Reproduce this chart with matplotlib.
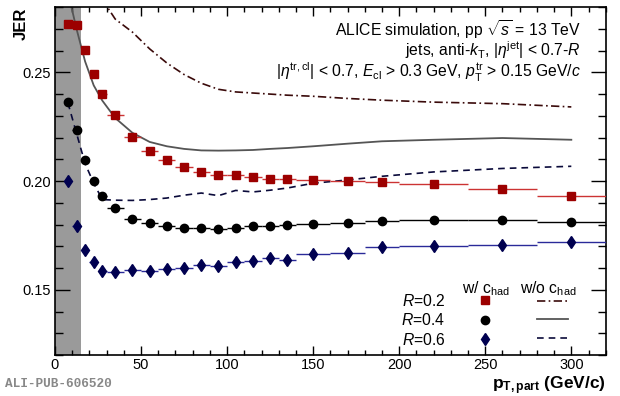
import numpy as np
import matplotlib
matplotlib.use("Agg")
import matplotlib.pyplot as plt
from matplotlib.lines import Line2D
from matplotlib.ticker import MultipleLocator

plt.rcParams["font.family"] = ["Liberation Sans", "DejaVu Sans"]
plt.rcParams["mathtext.fontset"] = "custom"
plt.rcParams["mathtext.rm"] = "Liberation Sans"
plt.rcParams["mathtext.it"] = "Liberation Sans:italic"
plt.rcParams["mathtext.bf"] = "Liberation Sans:bold"

# ---- data ----
pt = [7.5, 12.5, 17.5, 22.5, 27.5, 35, 45, 55, 65, 75, 85, 95, 105, 115, 125, 135,
      150, 170, 190, 220, 260, 300]
pt_halfwidth = [2.5, 2.5, 2.5, 2.5, 2.5, 5, 5, 5, 5, 5, 5, 5, 5, 5, 5, 5,
                10, 10, 10, 20, 20, 20]

jer_r02 = [0.2723, 0.2718, 0.2604, 0.2491, 0.2401, 0.2305, 0.2201, 0.2137, 0.2095,
           0.2065, 0.2042, 0.2029, 0.2029, 0.2020, 0.2011, 0.2011,
           0.2006, 0.2000, 0.1995, 0.1987, 0.1962, 0.1930]
jer_r04 = [0.2365, 0.2235, 0.2097, 0.2002, 0.1933, 0.1874, 0.1827, 0.1806, 0.1792,
           0.1786, 0.1786, 0.1780, 0.1782, 0.1792, 0.1793, 0.1798,
           0.1803, 0.1807, 0.1816, 0.1822, 0.1822, 0.1813]
jer_r06 = [0.1999, 0.1795, 0.1684, 0.1626, 0.1588, 0.1582, 0.1589, 0.1588, 0.1596,
           0.1602, 0.1612, 0.1608, 0.1626, 0.1634, 0.1645, 0.1638,
           0.1663, 0.1669, 0.1695, 0.1701, 0.1707, 0.1718]

# without hadronisation correction (curves)
nohad_r02 = [0.300, 0.296, 0.292, 0.288, 0.2835, 0.2745, 0.2685, 0.2608, 0.2543,
             0.2490, 0.2450, 0.2422, 0.2410, 0.2405, 0.2400, 0.2395,
             0.2390, 0.2380, 0.2372, 0.2363, 0.2356, 0.2341]
nohad_r04 = [0.287, 0.270, 0.255, 0.244, 0.237, 0.229, 0.2222, 0.2180, 0.2160,
             0.2148, 0.2141, 0.2140, 0.2141, 0.2143, 0.2148, 0.2152,
             0.2160, 0.2172, 0.2183, 0.2190, 0.2198, 0.2190]
nohad_r06 = [0.236, 0.222, 0.208, 0.199, 0.1915, 0.1912, 0.1911, 0.1915, 0.1922,
             0.1935, 0.1945, 0.1933, 0.1957, 0.1950, 0.1958, 0.1968,
             0.1990, 0.2005, 0.2022, 0.2042, 0.2058, 0.2068]

excluded_pt = 15

font_size = 11.3

fig = plt.figure(figsize=(6.2, 3.96), dpi=100)
ax = fig.add_axes([0.0887, 0.1035, 0.8883, 0.8785])

ax.axvspan(0, excluded_pt, color="#9a9a9a", zorder=0, lw=0)

ax.plot(pt, nohad_r02, color="#3a0a0a", lw=1.2, ls=(0, (5, 2, 1, 2)), zorder=2)
ax.plot(pt, nohad_r04, color="#555555", lw=1.3, ls="-", zorder=2)
ax.plot(pt, nohad_r06, color="#0a0a3a", lw=1.2, ls=(0, (4, 3)), zorder=2)

ax.errorbar(pt, jer_r02, xerr=pt_halfwidth, fmt="s", color="#9c0000", ms=5.5,
            ecolor="#cc3333", elinewidth=1.0, capsize=0, zorder=3)
ax.errorbar(pt, jer_r04, xerr=pt_halfwidth, fmt="o", color="black", ms=6,
            ecolor="black", elinewidth=1.0, capsize=0, zorder=3)
ax.errorbar(pt, jer_r06, xerr=pt_halfwidth, fmt="d", color="#000050", ms=6,
            ecolor="#2a2a99", elinewidth=1.0, capsize=0, zorder=3)

ax.set_xlim(0, 320)
ax.set_ylim(0.12, 0.28)

ax.xaxis.set_major_locator(MultipleLocator(50))
ax.xaxis.set_minor_locator(MultipleLocator(10))
ax.yaxis.set_major_locator(MultipleLocator(0.05))
ax.yaxis.set_minor_locator(MultipleLocator(0.01))
ax.yaxis.set_major_formatter(plt.FormatStrFormatter("%.2f"))
ax.tick_params(which="both", direction="in", top=True, right=True,
               labelsize=10.5, width=1)
ax.tick_params(axis="x", which="major", length=6.5, pad=2.5)
ax.tick_params(axis="x", which="minor", length=3.5)
ax.tick_params(axis="y", which="major", length=11, pad=3)
ax.tick_params(axis="y", which="minor", length=5.5)
for s in ax.spines.values():
    s.set_linewidth(1.2)

fig.text(0.022, 0.982, "JER", rotation=90, fontsize=12, fontweight="bold",
         ha="left", va="top")
fig.text(0.977, 0.018, r"$\mathbf{p}_{\mathbf{T,part}}$ (GeV/c)",
         fontsize=12.5, fontweight="bold", ha="right", va="baseline")
fig.text(0.008, 0.015, "ALI-PUB-606520", family=["Liberation Mono", "DejaVu Sans Mono"],
         fontweight="bold", fontsize=9.2, color="#888888", ha="left", va="bottom")

tx = 0.955
ax.text(tx, 0.937, r"ALICE simulation, pp $\sqrt{s}$ = 13 TeV", transform=ax.transAxes,
        ha="right", va="center", fontsize=font_size)
ax.text(tx, 0.877, r"jets, anti-$k_{\rm T}$, $|\eta^{\rm jet}|$ < 0.7-$R$",
        transform=ax.transAxes, ha="right", va="center", fontsize=font_size)
ax.text(tx, 0.812,
        r"$|\eta^{\rm tr,cl}|$ < 0.7, $E_{\rm cl}$ > 0.3 GeV, $p_{\rm T}^{\rm tr}$ > 0.15 GeV/$c$",
        transform=ax.transAxes, ha="right", va="center", fontsize=font_size)

# legend
ax.text(0.782, 0.19, r"w/ c$_{\rm had}$", transform=ax.transAxes,
        ha="center", va="center", fontsize=font_size)
ax.text(0.895, 0.19, r"w/o c$_{\rm had}$", transform=ax.transAxes,
        ha="center", va="center", fontsize=font_size)

marker_handles = [
    Line2D([], [], ls="none", marker="s", color="#9c0000", ms=5.5),
    Line2D([], [], ls="none", marker="o", color="black", ms=6),
    Line2D([], [], ls="none", marker="d", color="#000050", ms=6),
]
line_handles = [
    Line2D([], [], color="#3a0a0a", lw=1.2, ls=(0, (5, 2, 1, 2))),
    Line2D([], [], color="#555555", lw=1.3),
    Line2D([], [], color="#0a0a3a", lw=1.2, ls=(0, (4, 3))),
]
leg1 = ax.legend(marker_handles, [r"$R$=0.2", r"$R$=0.4", r"$R$=0.6"],
                 markerfirst=False, frameon=False, fontsize=font_size,
                 loc="center right", bbox_to_anchor=(0.82, 0.1),
                 labelspacing=0.22, handlelength=1.0, handletextpad=2.0)
ax.add_artist(leg1)
ax.legend(line_handles, ["", "", ""], frameon=False, fontsize=font_size,
          loc="center", bbox_to_anchor=(0.903, 0.1),
          labelspacing=0.22, handlelength=2.0, handletextpad=0)

fig.savefig("out.png", dpi=100)
